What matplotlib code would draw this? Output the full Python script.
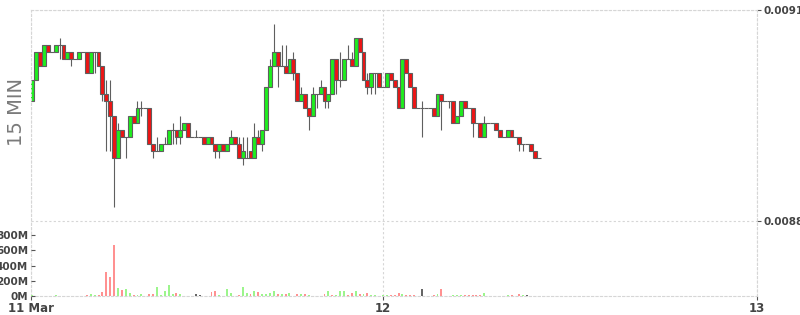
import numpy as np
import pandas as pd
import matplotlib
matplotlib.use("Agg")
import matplotlib.pyplot as plt
import matplotlib.dates as mdates

# 15 min candles, prices in units of 0.00001
opens = [897, 900, 904, 902, 905, 904, 904, 905, 905, 903,
         904, 903, 903, 904, 904, 901, 904, 904, 902, 898,
         897, 895, 889, 893, 892, 892, 895, 894, 896, 896,
         896, 891, 890, 890, 891, 891, 893, 893, 892, 893,
         894, 892, 892, 892, 892, 891, 892, 891, 890, 891,
         890, 891, 892, 891, 889, 889, 890, 889, 892, 891,
         893, 899, 902, 904, 902, 902, 901, 903, 901, 897,
         898, 896, 895, 898, 898, 899, 897, 898, 903, 900,
         900, 903, 903, 902, 906, 904, 900, 899, 901, 901,
         899, 899, 901, 900, 899, 896, 903, 901, 899, 896,
         896, 896, 896, 896, 895, 898, 897, 897, 897, 894,
         895, 897, 896, 896, 894, 894, 892, 894, 894, 894,
         893, 892, 892, 893, 892, 892, 891, 891, 891, 890, 889]
closes = [900, 904, 902, 905, 904, 904, 905, 905, 903, 904,
          903, 903, 904, 904, 901, 904, 904, 902, 898, 897,
          895, 889, 893, 892, 892, 895, 894, 896, 896, 896,
          891, 890, 890, 891, 891, 893, 893, 892, 893, 894,
          892, 892, 892, 892, 891, 892, 891, 890, 891, 890,
          891, 892, 891, 889, 890, 889, 889, 892, 891, 893,
          899, 902, 904, 902, 902, 901, 903, 901, 897, 898,
          896, 895, 898, 898, 899, 897, 898, 903, 900, 900,
          903, 903, 902, 906, 904, 900, 899, 901, 901, 899,
          899, 901, 900, 899, 896, 903, 901, 899, 896, 896,
          896, 896, 896, 895, 898, 897, 897, 897, 894, 895,
          897, 896, 896, 894, 894, 892, 894, 894, 894, 893,
          892, 892, 893, 892, 892, 891, 891, 891, 890, 889, 889]
highs = [900, 904, 904, 905, 905, 904, 905, 906, 905, 904,
         904, 903, 904, 904, 904, 904, 904, 904, 902, 900,
         900, 895, 894, 893, 892, 895, 895, 897, 897, 896,
         896, 891, 892, 891, 892, 893, 894, 893, 895, 894,
         894, 892, 893, 892, 892, 892, 892, 891, 891, 891,
         891, 893, 892, 892, 892, 892, 890, 894, 893, 893,
         899, 903, 908, 904, 905, 905, 903, 904, 901, 899,
         898, 896, 899, 898, 900, 899, 898, 903, 903, 904,
         903, 905, 904, 906, 906, 904, 901, 901, 901, 901,
         899, 901, 901, 900, 899, 903, 903, 901, 899, 896,
         897, 896, 896, 896, 898, 898, 897, 897, 897, 895,
         897, 897, 896, 896, 894, 894, 895, 894, 894, 894,
         893, 892, 893, 893, 892, 892, 891, 891, 891, 890, 889]
lows = [897, 900, 902, 902, 904, 904, 904, 903, 903, 903,
        902, 903, 903, 904, 901, 901, 901, 902, 897, 890,
        890, 882, 889, 892, 889, 892, 894, 894, 895, 896,
        891, 889, 890, 890, 891, 891, 891, 891, 891, 893,
        892, 892, 892, 892, 891, 891, 891, 889, 889, 890,
        890, 891, 891, 889, 888, 889, 889, 889, 891, 890,
        893, 899, 902, 899, 902, 901, 901, 900, 897, 897,
        896, 893, 895, 896, 898, 896, 896, 898, 898, 899,
        900, 903, 902, 902, 904, 900, 898, 898, 898, 899,
        899, 899, 900, 899, 896, 896, 901, 899, 896, 896,
        892, 896, 896, 895, 895, 893, 897, 896, 894, 894,
        895, 896, 896, 892, 894, 892, 892, 894, 894, 893,
        892, 892, 892, 892, 892, 890, 890, 891, 890, 889, 889]
# volume in millions and its bar colour (g up, r down, n flat)
volumes = [13, 4, 4, 0, 0, 0, 17, 0, 0, 0,
           0, 0, 0, 0, 17, 22, 17, 9, 48, 311,
           254, 675, 110, 83, 96, 35, 13, 13, 30, 0,
           30, 30, 123, 9, 70, 149, 30, 44, 30, 0,
           0, 0, 22, 13, 0, 0, 57, 70, 17, 4,
           96, 35, 4, 9, 123, 35, 22, 70, 57, 30,
           22, 35, 70, 22, 30, 22, 44, 4, 30, 30,
           30, 9, 4, 0, 0, 22, 70, 17, 17, 70,
           70, 17, 39, 70, 22, 30, 44, 17, 17, 4,
           13, 17, 17, 17, 44, 30, 13, 13, 9, 0,
           88, 0, 4, 13, 30, 88, 4, 0, 13, 13,
           13, 9, 9, 13, 9, 9, 44, 0, 2, 4,
           4, 4, 13, 9, 0, 30, 17, 17, 4, 4, 0]
vol_dir = ("gggnnngnnn" "nnnnrggrrr" "rrgrggrggn" "rrgggggrgn" "nnnnnnrrgr"
           "ggrrggrgrg" "gggrgrgrrg" "rggnnrgrgg" "grrgrgrggr" "ggrrrgrrrn"
           "nnnrgrgngg" "grrrrrgnnr" "rrgrnrgnrrn")

times = pd.date_range("2024-03-11 01:30", periods=len(opens), freq="15min")
x = mdates.date2num(times)
o = np.array(opens) * 1e-5
c = np.array(closes) * 1e-5
h = np.array(highs) * 1e-5
l = np.array(lows) * 1e-5
vol = np.array(volumes) * 1e6
w = 1 / 96

edge = '#5f5f5f'
up, down = '#1fee1f', '#ee1414'

fig = plt.figure(figsize=(8, 3.15), dpi=100)
pos = [31 / 800, 19 / 315, 726 / 800, 286 / 315]
ax = fig.add_axes(pos)

ax.vlines(x, l, h, color=edge, lw=0.8, zorder=1)
body = c != o
cols = np.where(c > o, up, down)
ax.bar(x[body], (c - o)[body], bottom=o[body], width=w, color=cols[body],
       edgecolor=edge, linewidth=0.8, zorder=2)
doji = ~body
ax.hlines(o[doji], x[doji] - w / 2, x[doji] + w / 2, color=edge, lw=0.8, zorder=2)

ax.set_xlim(mdates.date2num(pd.Timestamp("2024-03-11 01:25")),
            mdates.date2num(pd.Timestamp("2024-03-13 00:00")))
ax.set_ylim(0.0086934, 0.0091)
ax.yaxis.tick_right()
ax.set_yticks([0.0088, 0.0091])
ax.set_yticklabels(['0.0088', '0.0091'])
ax.set_xticks([ax.get_xlim()[0],
               mdates.date2num(pd.Timestamp("2024-03-12")),
               mdates.date2num(pd.Timestamp("2024-03-13"))])
ax.set_xticklabels(['11 Mar', '12', '13'])
ax.tick_params(axis='both', labelsize=7.5, labelcolor='#444444', color='#555555',
               length=3, pad=2)
ax.tick_params(axis='x', labelsize=8.5, pad=1.5)
for lab in ax.get_xticklabels() + ax.get_yticklabels():
    lab.set_fontweight('bold')
ax.grid(True, color='#d6d6d6', linestyle=(0, (2, 2)), lw=0.8)
for s in ax.spines.values():
    s.set_color('#d6d6d6')
    s.set_linestyle((0, (2, 2)))
    s.set_linewidth(0.8)

# volume panel overlaid at the bottom
ax_v = fig.add_axes(pos, sharex=ax, facecolor='none')
cmap = {'g': '#9cf58c', 'r': '#ff9191', 'n': '#666666'}
ax_v.bar(x, vol, width=w * 0.5, color=[cmap[d] for d in vol_dir], zorder=2)
ax_v.set_ylim(0, 3763e6)
ax_v.set_yticks([0, 200e6, 400e6, 600e6, 800e6])
ax_v.set_yticklabels(['0M', '200M', '400M', '600M', '800M'])
ax_v.tick_params(axis='y', direction='in', labelsize=7.5, labelcolor='#444444',
                 color='#555555', length=3, pad=2)
ax_v.tick_params(axis='x', bottom=False, labelbottom=False)
for lab in ax_v.get_yticklabels():
    lab.set_fontweight('bold')
for s in ax_v.spines.values():
    s.set_visible(False)

fig.text(17 / 800, 1 - 112 / 315, '15 MIN', rotation=90, ha='center', va='center',
         fontsize=14, color='#7a7a7a')

fig.savefig('out.png', dpi=100)
